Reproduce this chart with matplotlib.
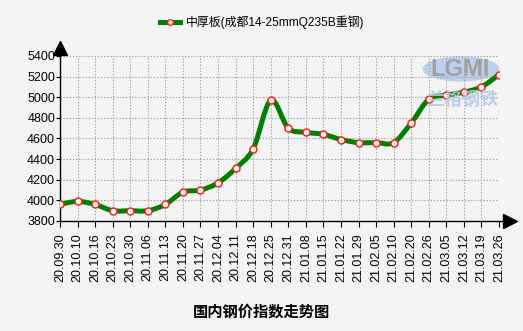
import matplotlib
matplotlib.use("Agg")
import matplotlib.pyplot as plt
from matplotlib.path import Path
from matplotlib.patches import PathPatch, Ellipse

dates = ["20.09.30", "20.10.10", "20.10.16", "20.10.23", "20.10.30", "20.11.06",
         "20.11.13", "20.11.20", "20.11.27", "20.12.04", "20.12.11", "20.12.18",
         "20.12.25", "20.12.31", "21.01.08", "21.01.15", "21.01.22", "21.01.29",
         "21.02.05", "21.02.10", "21.02.20", "21.02.26", "21.03.05", "21.03.12",
         "21.03.19", "21.03.26"]
prices = [3960, 3990, 3960, 3900, 3900, 3900, 3960, 4080, 4100, 4170, 4310, 4500,
          4970, 4700, 4660, 4640, 4590, 4560, 4560, 4560, 4750, 4980, 5020, 5050,
          5100, 5220]
yticks = [3800, 4000, 4200, 4400, 4600, 4800, 5000, 5200, 5400]
series_name = "中厚板(成都14-25mmQ235B重钢)"
title = "国内钢价指数走势图"

bg = "#f4f4f4"
green = "#008000"
cjk = ["Noto Sans CJK SC", "DejaVu Sans"]
mixed = ["Liberation Sans", "Noto Sans CJK SC"]
plt.rcParams["font.family"] = ["Liberation Sans", "DejaVu Sans"]

fig = plt.figure(figsize=(5.23, 3.31), dpi=100, facecolor=bg)
W, H = 523, 331
x0, x1, ytop, ybot = 60, 499, 56, 221
ax = fig.add_axes([x0 / W, 1 - ybot / H, (x1 - x0) / W, (ybot - ytop) / H])
ax.set_facecolor(bg)

xs = list(range(len(dates)))

# smooth curve through points (Catmull-Rom -> cubic bezier)
pts = list(zip(xs, prices))
verts = [pts[0]]
codes = [Path.MOVETO]
n = len(pts)
for i in range(n - 1):
    p0 = pts[i - 1] if i > 0 else pts[i]
    p1 = pts[i]
    p2 = pts[i + 1]
    p3 = pts[i + 2] if i + 2 < n else pts[i + 1]
    c1 = (p1[0] + (p2[0] - p0[0]) / 6, p1[1] + (p2[1] - p0[1]) / 6)
    c2 = (p2[0] - (p3[0] - p1[0]) / 6, p2[1] - (p3[1] - p1[1]) / 6)
    verts += [c1, c2, p2]
    codes += [Path.CURVE4] * 3
ax.add_patch(PathPatch(Path(verts, codes), facecolor="none", edgecolor=green,
                       lw=3.6, capstyle="round", joinstyle="round", zorder=3))
ax.plot(xs, prices, ls="none", marker="o", ms=5, mfc="white", mec="#ff2020",
        mew=1.1, zorder=4)

ax.set_xlim(0, len(dates) - 1)
ax.set_ylim(3800, 5400)
ax.set_xticks(xs)
ax.set_xticklabels(dates, rotation=90, fontsize=9)
ax.set_yticks(yticks)
ax.set_yticklabels([str(v) for v in yticks], fontsize=9)
ax.tick_params(axis="x", length=4, width=0.8, color="black", pad=5)
ax.tick_params(axis="y", length=3, width=0.8, color="black", pad=0.5)
ax.grid(True, color="#a0a0a0", ls=(0, (1.2, 1.6)), lw=0.8)
for s in ["top", "right"]:
    ax.spines[s].set_visible(False)
for s in ["left", "bottom"]:
    ax.spines[s].set_color("black")
    ax.spines[s].set_linewidth(1)

# axis arrows
ax.plot([0, 0], [1, 1 + 10 / 165], color="black", lw=1, transform=ax.transAxes,
        clip_on=False)
ax.plot([0], [1 + 8 / 165], marker="^", ms=10, color="black",
        transform=ax.transAxes, clip_on=False)
ax.plot([1, 1 + 12 / 439], [0, 0], color="black", lw=1, transform=ax.transAxes,
        clip_on=False)
ax.plot([1 + 11 / 439], [0], marker=">", ms=10, color="black",
        transform=ax.transAxes, clip_on=False)

# watermark
ax.add_patch(Ellipse((461 / W, 1 - 69 / H), 77 / W, 25 / H, transform=fig.transFigure,
                     facecolor="#a8c4e8", edgecolor="none", alpha=0.75, zorder=1))
fig.text(460 / W, 1 - 69 / H, "LGMI", fontsize=17, color="#a0a0a0", ha="center",
         va="center", fontweight="bold", zorder=1)
fig.text(462 / W, 1 - 100 / H, "兰格钢铁", fontsize=13, color="#b4c8e6", ha="center",
         va="center", family=cjk, fontweight="bold", alpha=0.85, zorder=1)

# legend
fig.lines.append(plt.Line2D([160 / W, 180 / W], [1 - 22 / H, 1 - 22 / H],
                            transform=fig.transFigure, color=green, lw=3.6))
fig.lines.append(plt.Line2D([170 / W], [1 - 22 / H], transform=fig.transFigure,
                            ls="none", marker="o", ms=4, mfc="white", mec="#ff2020",
                            mew=1))
fig.text(186 / W, 1 - 22 / H, series_name, fontsize=8.6, family=mixed, ha="left",
         va="center", color="black")

fig.text(261 / W, 1 - 312 / H, title, fontsize=11, family=cjk, fontweight="bold",
         ha="center", va="center", color="black")

fig.savefig("out.png", dpi=100, facecolor=bg)
